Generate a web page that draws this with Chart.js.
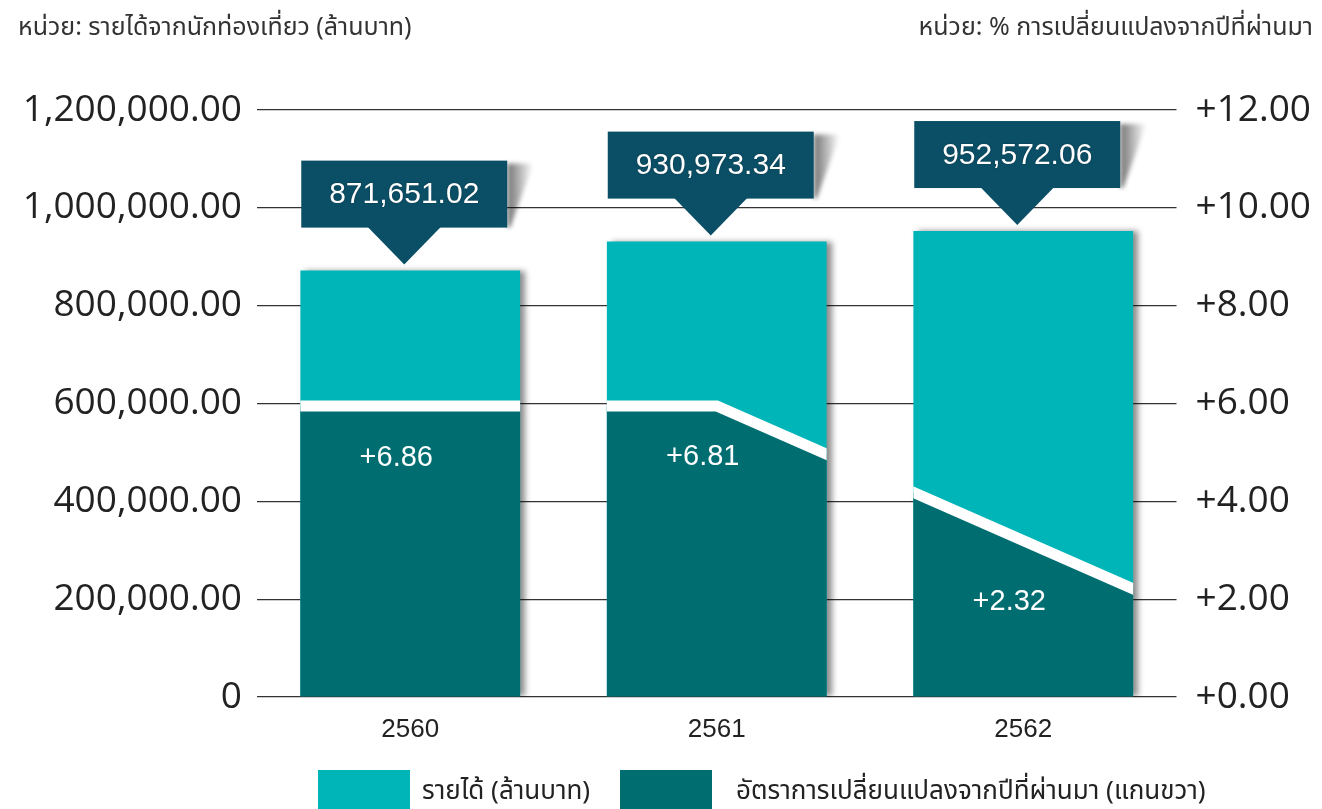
<!DOCTYPE html>
<html>
<head>
<meta charset="utf-8">
<script src="https://cdn.jsdelivr.net/npm/chart.js@4.4.1/dist/chart.umd.min.js"></script>
<style>
html, body { margin: 0; padding: 0; background: #fff; overflow: hidden; }
canvas { display: block; }
</style>
</head>
<body>
<canvas id="graphCanvas" width="1322" height="830"></canvas>
<script>
var years = ['2560', '2561', '2562'];
var revenue = [871651.02, 930973.34, 952572.06];
var rateChange = [6.86, 6.81, 2.32];
// outline of the dark band as drawn (category position, % on right axis)
var rateShapeX = [-0.5, 1, 2.5];
var rateShapeY = [5.95, 5.95, 1.82];
var seriesNames = ['รายได้ (ล้านบาท)', 'อัตราการเปลี่ยนแปลงจากปีที่ผ่านมา (แกนขวา)'];
var leftUnit = 'หน่วย: รายได้จากนักท่องเที่ยว (ล้านบาท)';
var rightUnit = 'หน่วย: % การเปลี่ยนแปลงจากปีที่ผ่านมา';

var lightTeal = '#00b5b8';
var darkTeal = '#006d71';
var navy = '#0b4f66';
var textGrey = '#222222';
var thaiFont = '"Noto Sans", "Noto Sans Thai", sans-serif';

var shapePoints = [];
for (var i in rateShapeX) {
    shapePoints.push({ x: rateShapeX[i], y: rateShapeY[i] });
}

// shadow on the bars; after the bars, clip to them so the dark band (fill + line) only shows inside
var barTricks = {
    id: 'barTricks',
    beforeDatasetDraw: function (chart, args) {
        if (args.index === 0) {
            var ctx = chart.ctx;
            ctx.save();
            ctx.shadowColor = 'rgba(0,0,0,0.45)';
            ctx.shadowBlur = 6;
            ctx.shadowOffsetX = 5;
        }
    },
    afterDatasetDraw: function (chart, args) {
        var ctx = chart.ctx;
        ctx.restore();
        if (args.index === 0) {
            var bars = chart.getDatasetMeta(0).data;
            ctx.save();
            ctx.beginPath();
            bars.forEach(function (b) {
                ctx.rect(b.x - b.width / 2, b.y, b.width, b.base - b.y);
            });
            ctx.clip();
        }
    }
};

var labelDrop = [52, 51, 68];

var decorations = {
    id: 'decorations',
    afterDatasetsDraw: function (chart) {
        var ctx = chart.ctx;
        var bars = chart.getDatasetMeta(0).data;
        var line = chart.getDatasetMeta(1).data;

        bars.forEach(function (b, i) {
            // callout box with value
            var cx = b.x - 6, w = 206, h = 67;
            var tipY = b.y - 6, bottom = tipY - 37, top = bottom - h, left = cx - w / 2;

            ctx.save();
            ctx.filter = 'blur(2px)';
            var g = ctx.createLinearGradient(left + w, 0, left + w + 26, 0);
            g.addColorStop(0, 'rgba(0,0,0,0.55)');
            g.addColorStop(1, 'rgba(0,0,0,0)');
            ctx.fillStyle = g;
            ctx.beginPath();
            ctx.moveTo(left + w, top + 3);
            ctx.lineTo(left + w + 26, top + 3);
            ctx.lineTo(left + w + 3, bottom);
            ctx.lineTo(left + w, bottom);
            ctx.closePath();
            ctx.fill();
            ctx.restore();

            ctx.save();
            ctx.fillStyle = navy;
            ctx.fillRect(left, top, w, h);
            ctx.beginPath();
            ctx.moveTo(cx - 37, bottom - 1);
            ctx.lineTo(cx + 37, bottom - 1);
            ctx.lineTo(cx, tipY);
            ctx.closePath();
            ctx.fill();

            ctx.fillStyle = '#ffffff';
            ctx.shadowColor = 'rgba(0,0,0,0.35)';
            ctx.shadowBlur = 2;
            ctx.font = '30px "Liberation Sans", Arial, sans-serif';
            ctx.textAlign = 'center';
            ctx.textBaseline = 'middle';
            ctx.fillText(revenue[i].toLocaleString('en-US', { minimumFractionDigits: 2 }), cx, top + h / 2 + 1);
            ctx.restore();

            // rate label under the white line
            var lx = b.x - 14;
            var ly = 0;
            for (var k = 0; k < line.length - 1; k++) {
                var p = line[k], q = line[k + 1];
                if (lx >= p.x && lx <= q.x) {
                    ly = p.y + (q.y - p.y) * (lx - p.x) / (q.x - p.x);
                }
            }
            ctx.save();
            ctx.fillStyle = '#ffffff';
            ctx.font = '29px "Liberation Sans", Arial, sans-serif';
            ctx.textAlign = 'center';
            ctx.textBaseline = 'middle';
            ctx.fillText('+' + rateChange[i].toFixed(2), lx, ly + labelDrop[i]);
            ctx.restore();
        });
    },
    afterDraw: function (chart) {
        var ctx = chart.ctx;
        ctx.save();
        ctx.fillStyle = '#333333';
        ctx.font = '25px ' + thaiFont;
        ctx.textBaseline = 'middle';
        ctx.textAlign = 'left';
        ctx.fillText(leftUnit, 18, 28);
        ctx.textAlign = 'right';
        ctx.fillText(rightUnit, 1313, 28);

        // legend
        var items = [
            { x: 318, color: lightTeal, text: seriesNames[0], tx: 422 },
            { x: 620, color: darkTeal, text: seriesNames[1], tx: 736 }
        ];
        ctx.font = '26px ' + thaiFont;
        ctx.textAlign = 'left';
        items.forEach(function (it) {
            ctx.fillStyle = it.color;
            ctx.fillRect(it.x, 770, 92, 44);
            ctx.fillStyle = textGrey;
            ctx.fillText(it.text, it.tx, 792);
        });
        ctx.restore();
    }
};

var chartdata = {
    labels: years,
    datasets: [{
        type: 'bar',
        label: seriesNames[0],
        data: revenue,
        backgroundColor: lightTeal,
        borderWidth: 0,
        grouped: false,
        categoryPercentage: 1,
        barPercentage: 0.717,
        xAxisID: 'x',
        yAxisID: 'y',
        order: 2
    }, {
        type: 'line',
        label: seriesNames[1],
        data: shapePoints,
        borderColor: '#ffffff',
        borderWidth: 11,
        backgroundColor: darkTeal,
        fill: 'origin',
        tension: 0,
        pointRadius: 0,
        xAxisID: 'xl',
        yAxisID: 'y1',
        order: 1
    }]
};

var graphTarget = document.getElementById('graphCanvas');

var barGraph = new Chart(graphTarget, {
    type: 'bar',
    data: chartdata,
    plugins: [barTricks, decorations],
    options: {
        responsive: false,
        animation: false,
        layout: {
            padding: { top: 110, left: 0, right: 0, bottom: 0 }
        },
        plugins: {
            legend: { display: false },
            tooltip: { enabled: false }
        },
        scales: {
            x: {
                type: 'category',
                offset: true,
                grid: { display: false },
                border: { display: false },
                ticks: {
                    color: textGrey,
                    padding: 9,
                    font: { family: '"Liberation Sans", Arial, sans-serif', size: 26 }
                },
                afterFit: function (scale) { scale.height = 133; }
            },
            xl: {
                type: 'linear',
                display: false,
                offset: false,
                min: -0.5,
                max: 2.5
            },
            y: {
                position: 'left',
                min: 0,
                max: 1200000,
                grid: { color: '#333333', lineWidth: 1.3, drawTicks: false },
                border: { display: false },
                ticks: {
                    stepSize: 200000,
                    color: textGrey,
                    padding: 15,
                    font: { family: '"Open Sans", sans-serif', size: 37 },
                    callback: function (v) {
                        return v === 0 ? '0' : v.toLocaleString('en-US', { minimumFractionDigits: 2 });
                    }
                },
                afterFit: function (scale) { scale.width = 257; }
            },
            y1: {
                position: 'right',
                min: 0,
                max: 12,
                grid: { display: false, drawTicks: false },
                border: { display: false },
                ticks: {
                    stepSize: 2,
                    color: textGrey,
                    padding: 19,
                    font: { family: '"Open Sans", sans-serif', size: 37 },
                    callback: function (v) { return '+' + v.toFixed(2); }
                },
                afterFit: function (scale) { scale.width = 145.5; }
            }
        }
    }
});
</script>
</body>
</html>
